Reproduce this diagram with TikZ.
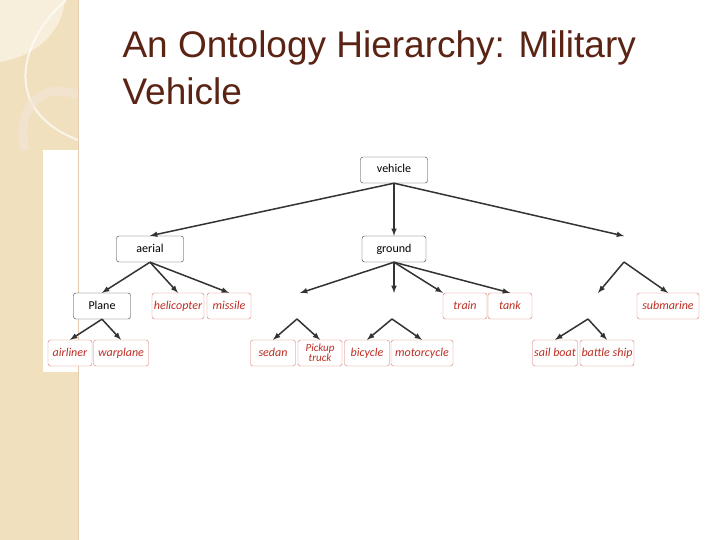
\documentclass[tikz,border=0pt]{standalone}
\usepackage{fontspec}
\setmainfont{Liberation Sans}
\newfontfamily\carl{Carlito}
\definecolor{beige}{RGB}{240,224,190}
\definecolor{titlec}{RGB}{90,35,20}
\definecolor{redt}{RGB}{190,45,35}
\definecolor{redb}{RGB}{215,120,110}
\begin{document}
\begin{tikzpicture}[x=1pt,y=-1pt,
  bn/.style={draw=black!80,rounded corners=2.5pt,minimum height=26pt,inner sep=1pt,text height=8pt,text depth=2pt,font=\carl\fontsize{12}{12}\selectfont,fill=white},
  rn/.style={draw=redb,rounded corners=2.5pt,minimum height=26pt,inner sep=1pt,text height=8pt,text depth=2pt,font=\carl\itshape\fontsize{12}{12}\selectfont,text=redt,align=center,fill=white},
  ar/.style={-latex,line width=1.5pt,black!80}]
\useasboundingbox (0,0) rectangle (720,540);
\fill[white] (0,0) rectangle (720,540);
\fill[beige] (0,0) rectangle (78,540);
\fill[beige!55] (0,0) -- (65,0) .. controls (62,30) and (40,55) .. (0,62) -- cycle;
\draw[white,line width=2pt,opacity=.7] (66,0) .. controls (20,40) and (0,110) .. (78,140);
\draw[brown!20,line width=9pt,opacity=.6] (78,95) .. controls (40,80) and (15,110) .. (25,150);
\draw[brown!40,line width=.8pt] (78,0) -- (78,540);
\fill[white] (43,150) rectangle (78,372);
\node[anchor=base west,text=titlec,font=\fontsize{37}{37}\selectfont] (t1) at (119,58) {An Ontology Hierarchy: Military};
\node[anchor=base west,text=titlec,font=\fontsize{37}{37}\selectfont] (t2) at (119,105) {Vehicle};
% nodes
\node[bn,minimum width=67pt] (veh) at (394,170) {vehicle};
\node[bn,minimum width=67pt] (aer) at (150,249) {aerial};
\node[bn,minimum width=64pt] (gro) at (394,249) {ground};
\node[bn,minimum width=57pt] (pla) at (102,306) {Plane};
\node[rn,minimum width=52pt] (hel) at (178,306) {helicopter};
\node[rn,minimum width=44pt] (mis) at (229,306) {missile};
\node[rn,minimum width=44pt] (tra) at (465,306) {train};
\node[rn,minimum width=44pt] (tan) at (510,306) {tank};
\node[rn,minimum width=62pt] (sub) at (668,306) {submarine};
\node[rn,minimum width=44pt] (air) at (70,353) {airliner};
\node[rn,minimum width=55pt] (war) at (121,353) {warplane};
\node[rn,minimum width=45pt] (sed) at (273,353) {sedan};
\node[rn,minimum width=44pt,text height=,text depth=,font=\carl\itshape\fontsize{11}{10}\selectfont] (pic) at (320,353) {Pickup\\truck};
\node[rn,minimum width=45pt] (bic) at (367,353) {bicycle};
\node[rn,minimum width=62pt] (mot) at (422,353) {motorcycle};
\node[rn,minimum width=45pt] (sai) at (555,353) {sail boat};
\node[rn,minimum width=54pt] (bat) at (607,353) {battle ship};
% free coordinates
\coordinate (wat) at (624,236);
\coordinate (watb) at (624,262);
\coordinate (ro) at (300,293);
\coordinate (rt) at (394,293);
\coordinate (ship) at (598,293);
\coordinate (a1) at (297,319);
\coordinate (a2) at (392,319);
\coordinate (a3) at (588,319);
% arrows
\draw[ar] (veh.south) -- (aer.north);
\draw[ar] (veh.south) -- (gro.north);
\draw[ar] (veh.south) -- (wat);
\draw[ar] (aer.south) -- (pla.north);
\draw[ar] (aer.south) -- (hel.north);
\draw[ar] (aer.south) -- (mis.north);
\draw[ar] (gro.south) -- (ro);
\draw[ar] (gro.south) -- (rt);
\draw[ar] (gro.south) -- (tra.north west);
\draw[ar] (gro.south) -- (tan.north);
\draw[ar] (watb) -- (ship);
\draw[ar] (watb) -- (sub.north);
\draw[ar] (pla.south) -- (air.north);
\draw[ar] (pla.south) -- (war.north);
\draw[ar] (a1) -- (sed.north);
\draw[ar] (a1) -- (pic.north);
\draw[ar] (a2) -- (bic.north);
\draw[ar] (a2) -- (mot.north);
\draw[ar] (a3) -- (sai.north);
\draw[ar] (a3) -- (bat.north);
\end{tikzpicture}
\end{document}
